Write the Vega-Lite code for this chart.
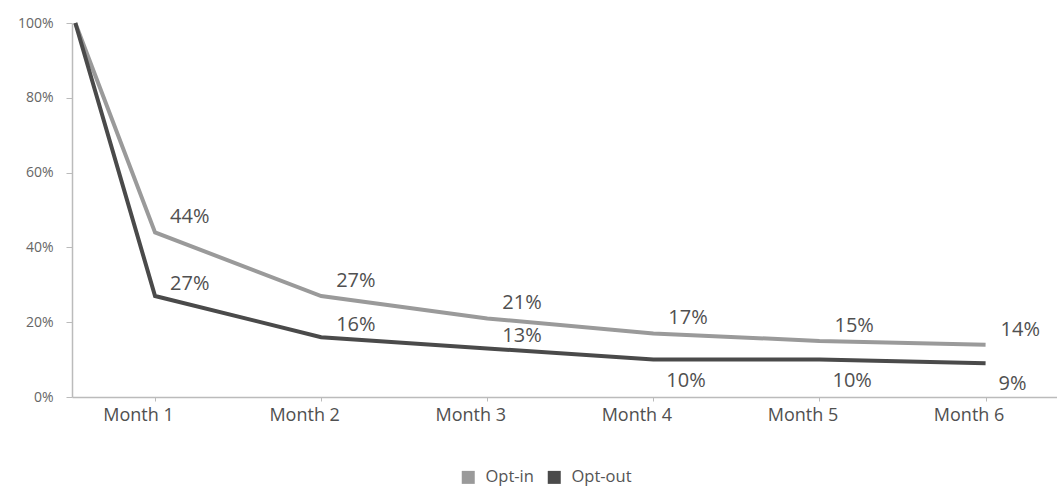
{
  "$schema": "https://vega.github.io/schema/vega-lite/v6.json",
  "width": 985,
  "height": 374,
  "autosize": "none",
  "padding": {"left": 72, "top": 23, "right": 0, "bottom": 93},
  "background": "white",
  "config": {"view": {"stroke": null}, "font": "Open Sans"},
  "data": {
    "values": [
      {"month": 0.52, "series": "Opt-in", "value": 1.0},
      {"month": 1, "series": "Opt-in", "value": 0.44},
      {"month": 2, "series": "Opt-in", "value": 0.27},
      {"month": 3, "series": "Opt-in", "value": 0.21},
      {"month": 4, "series": "Opt-in", "value": 0.17},
      {"month": 5, "series": "Opt-in", "value": 0.15},
      {"month": 6, "series": "Opt-in", "value": 0.14},
      {"month": 0.52, "series": "Opt-out", "value": 1.0},
      {"month": 1, "series": "Opt-out", "value": 0.27},
      {"month": 2, "series": "Opt-out", "value": 0.16},
      {"month": 3, "series": "Opt-out", "value": 0.13},
      {"month": 4, "series": "Opt-out", "value": 0.10},
      {"month": 5, "series": "Opt-out", "value": 0.10},
      {"month": 6, "series": "Opt-out", "value": 0.09}
    ]
  },
  "encoding": {
    "x": {
      "field": "month",
      "type": "quantitative",
      "scale": {"domain": [0.5, 6.43], "nice": false, "zero": false},
      "axis": {
        "title": null,
        "values": [1, 2, 3, 4, 5, 6],
        "labelExpr": "'Month ' + datum.value",
        "grid": false,
        "domainColor": "#bbbbbb",
        "domainWidth": 1.5,
        "tickColor": "#bbbbbb",
        "tickSize": 4,
        "labelFontSize": 18,
        "labelColor": "#505050",
        "labelPadding": 5,
        "labelOffset": -17
      }
    },
    "y": {
      "field": "value",
      "type": "quantitative",
      "scale": {"domain": [0, 1], "nice": false},
      "axis": {
        "title": null,
        "values": [0, 0.2, 0.4, 0.6, 0.8, 1.0],
        "format": ".0%",
        "grid": false,
        "domainColor": "#bbbbbb",
        "domainWidth": 1.5,
        "tickColor": "#bbbbbb",
        "tickSize": 6,
        "labelFontSize": 14,
        "labelColor": "#666666",
        "labelPadding": 13
      }
    },
    "color": {
      "field": "series",
      "type": "nominal",
      "scale": {"domain": ["Opt-in", "Opt-out"], "range": ["#9a9a9a", "#4a4a4a"]},
      "legend": {
        "title": null,
        "orient": "none",
        "legendX": 388,
        "legendY": 446,
        "direction": "horizontal",
        "symbolType": "square",
        "symbolSize": 169,
        "labelFontSize": 16.5,
        "labelColor": "#555555",
        "labelOffset": 9,
        "columnPadding": 12,
        "encode": {
          "symbols": {
            "update": {
              "fill": {"signal": "scale('color', datum.value)"},
              "strokeWidth": {"value": 0}
            }
          }
        }
      }
    }
  },
  "layer": [
    {
      "mark": {"type": "line", "strokeWidth": 4, "interpolate": "linear"}
    },
    {
      "transform": [{"filter": "datum.series == 'Opt-in' && datum.month >= 1"}],
      "mark": {"type": "text", "align": "left", "dx": 15, "dy": -15, "fontSize": 20},
      "encoding": {
        "text": {"field": "value", "type": "quantitative", "format": ".0%"},
        "color": {"value": "#505050"}
      }
    },
    {
      "transform": [{"filter": "datum.series == 'Opt-out' && datum.month >= 1 && datum.month <= 3"}],
      "mark": {"type": "text", "align": "left", "dx": 15, "dy": -12, "fontSize": 20},
      "encoding": {
        "text": {"field": "value", "type": "quantitative", "format": ".0%"},
        "color": {"value": "#505050"}
      }
    },
    {
      "transform": [{"filter": "datum.series == 'Opt-out' && datum.month >= 4"}],
      "mark": {"type": "text", "align": "left", "dx": 13, "dy": 21, "fontSize": 20},
      "encoding": {
        "text": {"field": "value", "type": "quantitative", "format": ".0%"},
        "color": {"value": "#505050"}
      }
    }
  ]
}
